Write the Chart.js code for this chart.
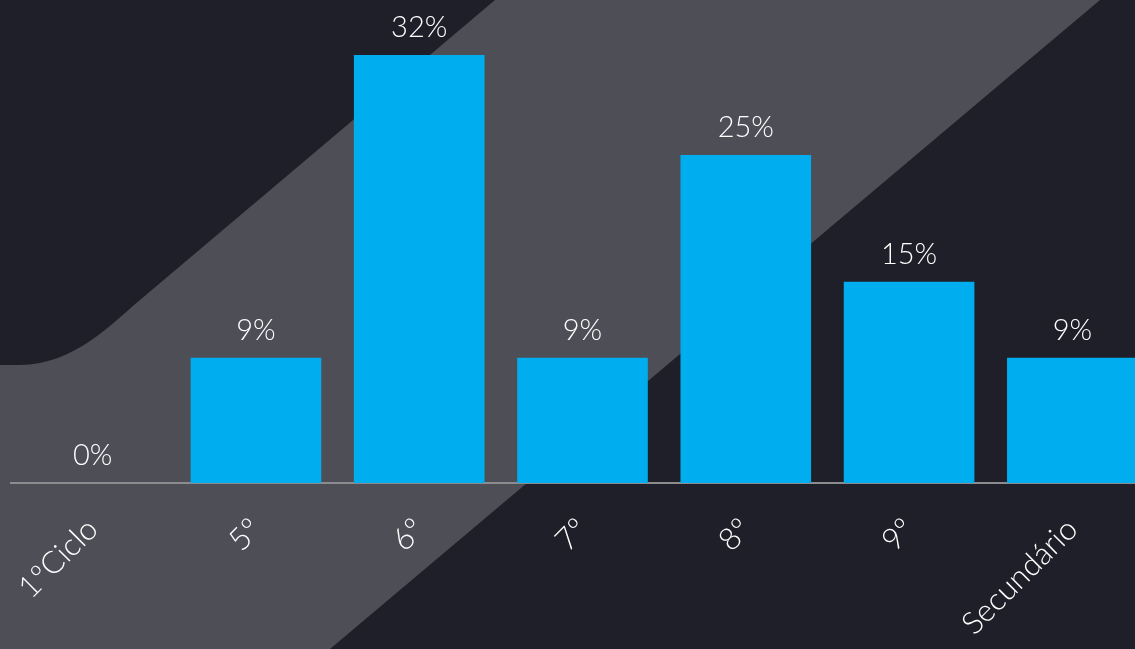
<!DOCTYPE html>
<html lang="pt">
<head>
    <meta charset="UTF-8">
    <title>Distribuição por ano</title>
    <script src="https://cdn.jsdelivr.net/npm/chart.js"></script>
    <style>
        body {
            margin: 0;
            padding: 0;
            width: 1135px;
            height: 649px;
            overflow: hidden;
            background-color: #1e1f28;
            position: relative;
        }
        svg.bg {
            position: absolute;
            left: 0;
            top: 0;
        }
        .chart-container {
            position: absolute;
            left: 0;
            top: 0;
            width: 1154px;
            height: 649px;
        }
    </style>
</head>
<body>
    <svg class="bg" width="1135" height="649">
        <path d="M495 0 L1100 0 L330 649 L0 649 L0 365 L20 365 C75 364 110 325 140 300 Z" fill="#4e4e56"/>
    </svg>
    <div class="chart-container">
        <canvas id="gradeChart" width="1154" height="649"></canvas>
    </div>

    <script>
        const categories = ['1ºCiclo', '5º', '6º', '7º', '8º', '9º', 'Secundário'];
        const percentages = [0, 9.4, 32.1, 9.4, 24.6, 15.1, 9.4];

        const fontFamily = "'Lato', 'Open Sans', sans-serif";

        // value labels above each bar
        const valueLabels = {
            id: 'valueLabels',
            afterDatasetsDraw(chart) {
                const ctx = chart.ctx;
                const meta = chart.getDatasetMeta(0);
                ctx.save();
                ctx.fillStyle = '#ffffff';
                ctx.font = '300 29px ' + fontFamily;
                ctx.textAlign = 'center';
                ctx.textBaseline = 'alphabetic';
                meta.data.forEach((bar, i) => {
                    ctx.fillText(Math.round(percentages[i]) + '%', bar.x, bar.y - 18);
                });
                ctx.restore();
            }
        };

        const ctx = document.getElementById('gradeChart').getContext('2d');
        new Chart(ctx, {
            type: 'bar',
            data: {
                labels: categories,
                datasets: [{
                    data: percentages,
                    backgroundColor: '#00aeef',
                    borderWidth: 0,
                    barPercentage: 0.8,
                    categoryPercentage: 1.0
                }]
            },
            options: {
                responsive: false,
                animation: false,
                layout: { padding: { left: 11, right: 0, top: 3, bottom: 0 } },
                plugins: {
                    legend: { display: false },
                    tooltip: { enabled: false }
                },
                scales: {
                    x: {
                        grid: { display: false },
                        border: { display: true, color: '#8c8c8f', width: 2 },
                        ticks: {
                            color: '#ffffff',
                            font: { family: fontFamily, size: 31, weight: '300' },
                            minRotation: 45,
                            maxRotation: 45,
                            autoSkip: false,
                            padding: 20
                        },
                        afterFit(axis) { axis.height = 166; }
                    },
                    y: {
                        display: false,
                        min: 0,
                        max: 36
                    }
                }
            },
            plugins: [valueLabels]
        });
    </script>
</body>
</html>
